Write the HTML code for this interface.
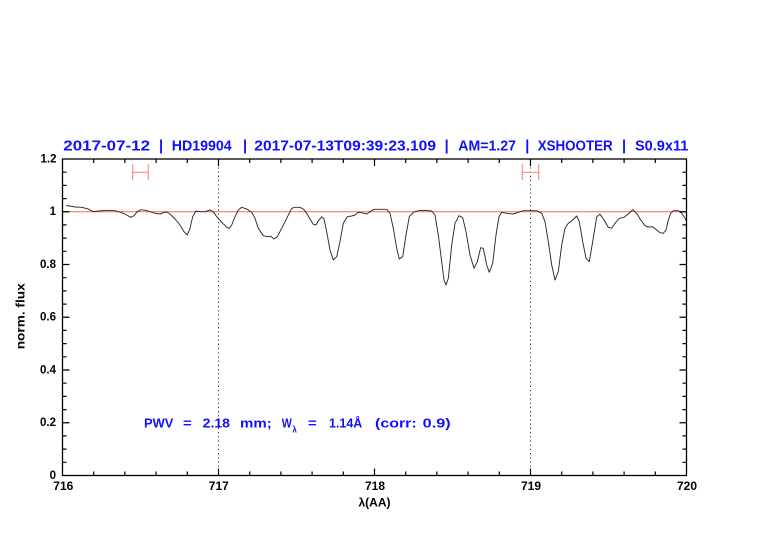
<!DOCTYPE html>
<html><head><meta charset="utf-8"><style>
html,body{margin:0;padding:0;background:#fff;}
svg{display:block;}
text{font-family:"Liberation Sans",sans-serif;font-weight:bold;}
</style></head><body>
<svg width="782" height="542" viewBox="0 0 782 542" xmlns="http://www.w3.org/2000/svg">
<rect width="782" height="542" fill="#fff"/>
<g font-size="14.5" fill="#1010ff">
<text x="63.3" y="150.5" textLength="86.7" lengthAdjust="spacingAndGlyphs">2017-07-12</text>
<text x="161" y="150.5" text-anchor="middle" font-weight="normal">|</text>
<text x="171.7" y="150.5" textLength="60" lengthAdjust="spacingAndGlyphs">HD19904</text>
<text x="245" y="150.5" text-anchor="middle" font-weight="normal">|</text>
<text x="254.3" y="150.5" textLength="181.7" lengthAdjust="spacingAndGlyphs">2017-07-13T09:39:23.109</text>
<text x="446.7" y="150.5" text-anchor="middle" font-weight="normal">|</text>
<text x="458.3" y="150.5" textLength="57.7" lengthAdjust="spacingAndGlyphs">AM=1.27</text>
<text x="527.3" y="150.5" text-anchor="middle" font-weight="normal">|</text>
<text x="537.7" y="150.5" textLength="75" lengthAdjust="spacingAndGlyphs">XSHOOTER</text>
<text x="624" y="150.5" text-anchor="middle" font-weight="normal">|</text>
<text x="635" y="150.5" textLength="53.3" lengthAdjust="spacingAndGlyphs">S0.9x11</text>
</g>
<line x1="62.5" y1="211.75" x2="686.5" y2="211.75" stroke="#ff6060" stroke-width="0.9"/>
<line x1="218.5" y1="159" x2="218.5" y2="475.5" stroke="#333" stroke-width="1" stroke-dasharray="1.2,3"/>
<line x1="530.5" y1="159" x2="530.5" y2="475.5" stroke="#333" stroke-width="1" stroke-dasharray="1.2,3"/>
<path d="M132.7 172.3H148.3M132.7 164.3V180M148.3 164.3V180M522.3 172.3H538.7M522.3 164.3V180M538.7 164.3V180" stroke="#ff8c8c" stroke-width="1.2" fill="none"/>
<polyline fill="none" stroke="#2a2a2a" stroke-width="0.95" stroke-linejoin="round" points="66,205.7 70,206 75,207 81.7,207.3 88.3,209 93.3,211.7 98.3,211 106.7,210.3 115,210.7 121.7,212.7 126.7,215 130.7,217.3 134,215.7 137.3,211.7 141,209.7 146,210.3 150,211.7 155,213.3 160,214 163.3,212.7 166.7,212 170,214 175,219 180,225 184,231.7 187.3,235 190,228.3 192.7,216.7 196,211 200,211.7 205,211.7 210,210 213.3,211.7 216.7,216.7 221.7,222.3 226.7,227.3 229.3,228.3 231.7,225 235,216.7 238.3,210 241.7,207.3 246.7,209 251.7,212.3 255,218.3 258.3,228.3 263.3,235.7 267.3,236.7 270.7,236.3 274,239 277.3,236.7 281.7,228.3 286.7,218.3 291.7,208.3 295,207.3 300,207.3 303.3,209 306.7,213.3 310,219 313.3,224.3 316,225 318.3,221 321.7,216.7 324,219 326.7,231.7 330,250 333.3,260 336.7,256.7 340,241.7 343.3,223.3 347.3,216.7 351.7,216 355,215 358.3,212.3 361.7,212.7 366.7,214 370,211.7 374,209.3 380,209.3 386.7,209.3 390,213.3 393.3,228.3 396.7,248.3 399.3,259 402.7,256.7 406,235 409.3,216.7 413.3,212.3 418.3,210.7 425,210.3 431.7,211 435,215 438.3,235 441.7,261.7 444,280 446,285 448.3,278.3 451.7,245 455,223.3 459,215.7 462.7,217.7 466,231.7 470,255 474,268.3 477.3,261.7 480.7,247.7 483.3,248.3 486.7,265 489.3,272.3 492.7,263.3 496,235 499,216.7 501.7,212.3 506.7,213.3 513.3,214 518.3,212.3 523.3,210.7 530,210.7 536.7,210.7 541.7,213.3 545,221.7 548.3,241.7 551.7,265 555,280 558.3,271.7 561.7,245 565,228.3 568.3,223.3 572.7,220 576.7,216 579.3,221.7 582.7,241.7 586,258.3 589.3,261.7 592.7,241.7 596.7,216.7 600,214.3 604,220 608.3,227.3 611.7,228.3 615,223.3 619.3,218.3 624,217.3 628.3,214 632.7,209.7 636.7,213.3 640.7,220 645,225.7 648.3,227 652.7,226.7 656.7,230 660,232.7 663.3,233.3 666,230 668.3,220 670.7,213.3 673.3,210.7 678.3,210.7 681.7,213.3 685,218.3 686.5,221"/>
<rect x="62.5" y="159" width="624" height="316.5" fill="none" stroke="#000" stroke-width="1.3"/>
<path stroke="#000" stroke-width="1.2" fill="none" d="M218.5 475.5v-7M374.5 475.5v-7M530.5 475.5v-7M218.5 159v7M374.5 159v7M530.5 159v7M93.7 475.5v-4M124.9 475.5v-4M156.1 475.5v-4M187.3 475.5v-4M249.7 475.5v-4M280.9 475.5v-4M312.1 475.5v-4M343.3 475.5v-4M405.7 475.5v-4M436.9 475.5v-4M468.1 475.5v-4M499.3 475.5v-4M561.7 475.5v-4M592.9 475.5v-4M624.1 475.5v-4M655.3 475.5v-4M93.7 159v4M124.9 159v4M156.1 159v4M187.3 159v4M249.7 159v4M280.9 159v4M312.1 159v4M343.3 159v4M405.7 159v4M436.9 159v4M468.1 159v4M499.3 159v4M561.7 159v4M592.9 159v4M624.1 159v4M655.3 159v4M62.5 422.75h7M62.5 370h7M62.5 317.25h7M62.5 264.5h7M62.5 211.75h7M686.5 422.75h-7M686.5 370h-7M686.5 317.25h-7M686.5 264.5h-7M686.5 211.75h-7M62.5 462.3h4M62.5 449.1h4M62.5 435.9h4M62.5 409.6h4M62.5 396.4h4M62.5 383.2h4M62.5 356.8h4M62.5 343.6h4M62.5 330.4h4M62.5 304.1h4M62.5 290.9h4M62.5 277.7h4M62.5 251.3h4M62.5 238.1h4M62.5 224.9h4M62.5 198.6h4M62.5 185.4h4M62.5 172.2h4M686.5 462.3h-4M686.5 449.1h-4M686.5 435.9h-4M686.5 409.6h-4M686.5 396.4h-4M686.5 383.2h-4M686.5 356.8h-4M686.5 343.6h-4M686.5 330.4h-4M686.5 304.1h-4M686.5 290.9h-4M686.5 277.7h-4M686.5 251.3h-4M686.5 238.1h-4M686.5 224.9h-4M686.5 198.6h-4M686.5 185.4h-4M686.5 172.2h-4"/>
<g font-size="11.5" fill="#000" text-anchor="end">
<text x="56" y="479">0</text>
<text x="56" y="426.2">0.2</text>
<text x="56" y="373.4">0.4</text>
<text x="56" y="320.7">0.6</text>
<text x="56" y="267.9">0.8</text>
<text x="56" y="215.1">1</text>
<text x="56.5" y="162.4">1.2</text>
</g>
<g font-size="11.5" fill="#000" text-anchor="middle">
<text x="63.3" y="490" textLength="20" lengthAdjust="spacingAndGlyphs">716</text>
<text x="218.8" y="490" textLength="20" lengthAdjust="spacingAndGlyphs">717</text>
<text x="375" y="490" textLength="20" lengthAdjust="spacingAndGlyphs">718</text>
<text x="531" y="490" textLength="20" lengthAdjust="spacingAndGlyphs">719</text>
<text x="687" y="490" textLength="20" lengthAdjust="spacingAndGlyphs">720</text>
</g>
<text x="374.5" y="506.5" font-size="11.5" fill="#000" text-anchor="middle" textLength="32" lengthAdjust="spacingAndGlyphs">λ(AA)</text>
<text x="0" y="0" font-size="11.5" fill="#000" text-anchor="middle" transform="translate(24.3,316.3) rotate(-90)" textLength="66" lengthAdjust="spacingAndGlyphs">norm. flux</text>
<g font-size="13" fill="#1010ff">
<text x="144" y="427.7" textLength="29.3" lengthAdjust="spacingAndGlyphs">PWV</text>
<text x="183" y="427.7" textLength="8.7" lengthAdjust="spacingAndGlyphs">=</text>
<text x="202.7" y="427.7" textLength="27.3" lengthAdjust="spacingAndGlyphs">2.18</text>
<text x="240" y="427.7" textLength="31.7" lengthAdjust="spacingAndGlyphs">mm;</text>
<text x="281.7" y="427.7" textLength="10" lengthAdjust="spacingAndGlyphs">W</text>
<text x="292.3" y="432.3" font-size="9.5" textLength="4.6" lengthAdjust="spacingAndGlyphs">λ</text>
<text x="308" y="427.7" textLength="8.7" lengthAdjust="spacingAndGlyphs">=</text>
<text x="329" y="427.7" textLength="33.3" lengthAdjust="spacingAndGlyphs">1.14Å</text>
<text x="375" y="427.7" textLength="41.7" lengthAdjust="spacingAndGlyphs">(corr:</text>
<text x="422.7" y="427.7" textLength="28" lengthAdjust="spacingAndGlyphs">0.9)</text>
</g>
</svg>
</body></html>
